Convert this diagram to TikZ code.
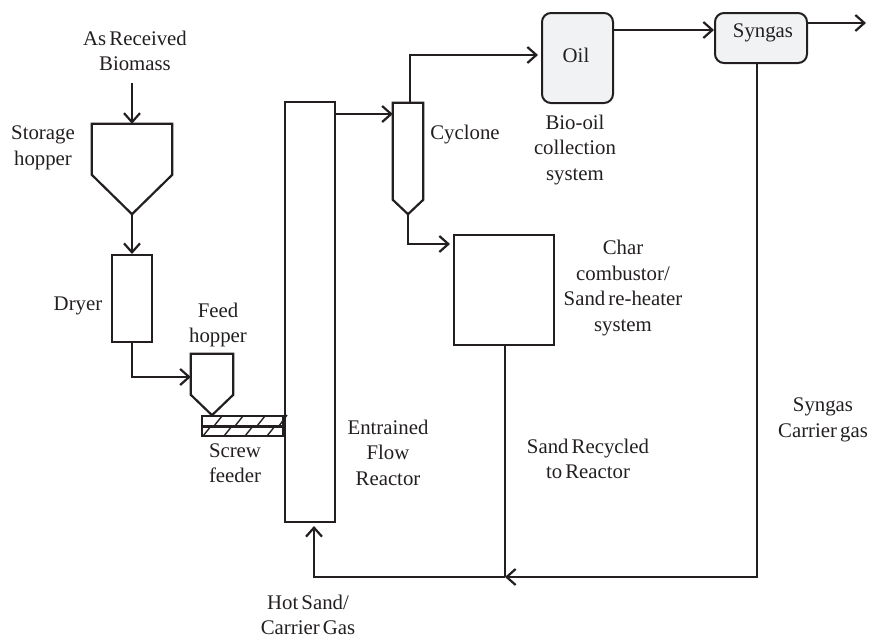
\documentclass[tikz,border=0pt]{standalone}
\usepackage{fontspec}
\setmainfont[WordSpace=0.6]{Liberation Serif}
\usetikzlibrary{arrows.meta,calc}
\definecolor{ink}{HTML}{231F20}
\definecolor{pale}{HTML}{F1F2F4}
\tikzset{
  x=1pt,y=-1pt,
  line/.style={draw=ink,line width=2.2pt,line join=miter},
  flow/.style={line,-{Straight Barb[length=9pt,width=16pt,line width=2.2pt]}},
  thick flow/.style={flow,line width=2.8pt},
  thin line/.style={draw=ink,line width=1.4pt},
  unit/.style={draw=ink,line width=2pt,fill=white,inner sep=0pt,minimum width=#1},
  vessel/.style={inner sep=0pt,minimum width=#1},
  tank/.style={draw=ink,line width=2pt,fill=pale,rounded corners=9pt,inner sep=0pt},
  lbl/.style={text=ink,align=center,font=\fontsize{20.8}{25.5}\selectfont,inner sep=0pt}
}
\begin{document}
\begin{tikzpicture}
\useasboundingbox (0,0) rectangle (874,638);
% units
\node[unit=40pt,minimum height=87pt] (dryer) at (132,298.5) {};
\node[unit=50pt,minimum height=420pt] (reactor) at (310,312) {};
\node[unit=100pt,minimum height=110pt] (char) at (504,290) {};
\node[tank,minimum width=71pt,minimum height=90pt] (oil) at (577.5,58) {};
\node[tank,minimum width=92pt,minimum height=50pt] (syngas) at (761,38) {};
% hoppers
\node[vessel=80pt,minimum height=90pt] (storage) at (132,169) {};
\draw[line,fill=white] (storage.north west) -- (storage.north east) -- ($(storage.north east)+(0,51)$) -- (storage.south) -- ($(storage.north west)+(0,51)$) -- cycle;
\node[vessel=42pt,minimum height=61pt] (feed) at (212,384.5) {};
\draw[line,fill=white] (feed.north west) -- (feed.north east) -- ($(feed.north east)+(0,41)$) -- (feed.south) -- ($(feed.north west)+(0,41)$) -- cycle;
\node[vessel=30pt,minimum height=111pt] (cyclone) at (408,158.5) {};
\draw[line,fill=white] (cyclone.north west) -- (cyclone.north east) -- ($(cyclone.north east)+(0,97)$) -- (cyclone.south) -- ($(cyclone.north west)+(0,97)$) -- cycle;
% screw feeder
\node[draw=ink,line width=1.4pt,inner sep=0pt,minimum width=81pt,minimum height=20pt] (screw) at (242.5,426) {};
\draw[thin line] (214,426) -- (222,416) (235,426) -- (243,416) (257,426) -- (265,416) (279,426) -- (287,415);
\draw[thin line] (203,436) -- (211,426) (224,436) -- (232,426) (245,436) -- (253,426) (267,436) -- (275,426);
\draw[draw=ink,line width=3pt] (screw.west) -- (screw.east);
% labels
\node[lbl] (l1) at (135,51) {As Received\\Biomass};
\node[lbl] (l2) at (43,148) {Storage\\hopper};
\node[lbl] (l3) at (78,306) {Dryer};
\node[lbl] (l4) at (218,325) {Feed\\hopper};
\node[lbl] (l5) at (235,463) {Screw\\feeder};
\node[lbl] (l6) at (388,452.5) {Entrained\\Flow\\Reactor};
\node[lbl] (l7) at (465,135) {Cyclone};
\node[lbl] (l8) at (576,55) {Oil};
\node[lbl] (l9) at (763,33) {Syngas};
\node[lbl] (l10) at (575,150) {Bio-oil\\collection\\system};
\node[lbl] (l11) at (623,288) {Char\\combustor/\\Sand re-heater\\system};
\node[lbl] (l12) at (588,459) {Sand Recycled\\to Reactor};
\node[lbl] (l13) at (823,420) {Syngas\\Carrier gas};
\node[lbl] (l14) at (308,615) {Hot Sand/\\Carrier Gas};
% connectors
\coordinate (in) at (132,83);
\coordinate (out) at (866,23);
\coordinate (merge) at (505,577);
\coordinate (rin) at (314,526);
\draw[thick flow] (in) -- (storage.north);
\draw[flow] (storage.south) -- (dryer.north);
\draw[flow] (dryer.south) |- (feed.west |- 0,377);
\draw[flow] (reactor.east |- 0,114) -- (cyclone.west |- 0,114);
\draw[flow] (410,103) |- ($(oil.west |- 0,55)+(-3,0)$);
\draw[flow] (cyclone.south) |- ($(char.west |- 0,244)+(-3,0)$);
\draw[flow] (oil.east |- 0,30) -- (syngas.west |- 0,30);
\draw[flow] (syngas.east |- 0,23) -- (out);
\draw[flow] (syngas.south -| 757,0) |- (merge);
\draw[line] (char.south -| merge) -- (merge);
\draw[flow] (merge) -| (rin);
\end{tikzpicture}
\end{document}
